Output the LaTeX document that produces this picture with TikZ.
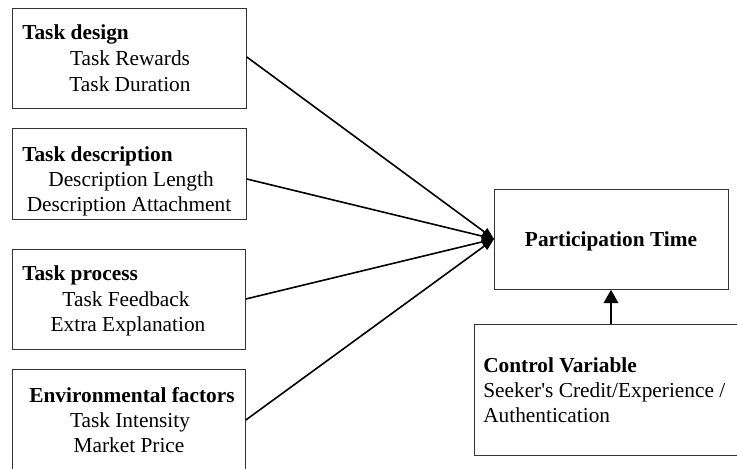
\documentclass[tikz,border=0pt]{standalone}
\usepackage{fontspec}
\setmainfont{Liberation Serif}
\usetikzlibrary{arrows.meta}
\begin{document}
\begin{tikzpicture}[x=0.75pt,y=-0.75pt,
  box/.style={draw=black!80,line width=0.6pt,rectangle,inner sep=0pt,anchor=north west},
  txt/.style={font=\fontsize{16}{19}\selectfont,inner sep=0pt,anchor=base},
  ttl/.style={txt,font=\fontsize{16}{19}\selectfont\bfseries},
  conn/.style={line width=1.2pt,-{Triangle[length=9pt,width=7pt]}},
  up/.style={line width=1.2pt,-{Triangle[length=10pt,width=11pt]}}]
\clip (0,0) rectangle (737,468);
\fill[white] (0,0) rectangle (737,468);
% boxes
\node[box,minimum width=234*0.75pt,minimum height=100*0.75pt] (b1) at (12,8) {};
\node[box,minimum width=234*0.75pt,minimum height=91*0.75pt] (b2) at (12,128) {};
\node[box,minimum width=233*0.75pt,minimum height=100*0.75pt] (b3) at (12,249) {};
\node[box,minimum width=233*0.75pt,minimum height=110*0.75pt] (b4) at (12,369) {};
\node[box,minimum width=234*0.75pt,minimum height=100*0.75pt] (pt) at (494,189) {};
\node[box,minimum width=270*0.75pt,minimum height=131*0.75pt] (cv) at (474,324) {};
% texts box 1
\node[ttl,anchor=base west] (t1) at (22,39) {Task design};
\node[txt] (t1a) at (130,65) {Task Rewards};
\node[txt] (t1b) at (130,91) {Task Duration};
% box 2
\node[ttl,anchor=base west] (t2) at (22,161) {Task description};
\node[txt] (t2a) at (131,186) {Description Length};
\node[txt] (t2b) at (129,211) {Description Attachment};
% box 3
\node[ttl,anchor=base west] (t3) at (22,280) {Task process};
\node[txt] (t3a) at (126,306) {Task Feedback};
\node[txt] (t3b) at (128,331) {Extra Explanation};
% box 4
\node[ttl] (t4) at (132,402) {Environmental factors};
\node[txt] (t4a) at (130,427) {Task Intensity};
\node[txt] (t4b) at (129,452) {Market Price};
% participation time
\node[ttl] (tp) at (611,246) {Participation Time};
% control
\node[ttl,anchor=base west] (tc) at (483,372) {Control Variable};
\node[txt,anchor=base west] (tca) at (483,397) {Seeker\textquotesingle s Credit/Experience /};
\node[txt,anchor=base west] (tcb) at (483,422) {Authentication};
% connectors
\coordinate (tip) at (494,239);
\draw[conn] (b1.east |- 0,57) -- (tip);
\draw[conn] (b2.east |- 0,179) -- (tip);
\draw[conn] (b3.east |- 0,299) -- (tip);
\draw[conn] (b4.east |- 0,420) -- (tip);
\draw[up] (cv.north -| 611,0) -- (pt.south -| 611,0);
\end{tikzpicture}
\end{document}
